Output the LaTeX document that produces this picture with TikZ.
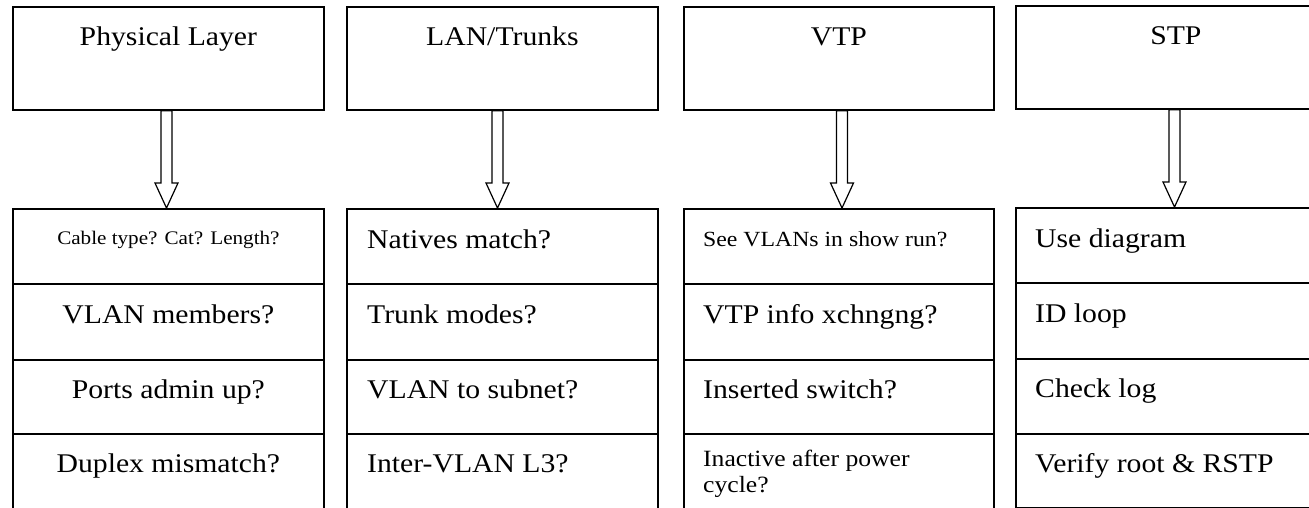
\documentclass[tikz,border=0pt]{standalone}
\usepackage{fontspec}
\setmainfont[FakeStretch=1.1]{Liberation Serif}
\usetikzlibrary{calc}

\tikzset{
  cellbox/.style={draw, line width=1.8pt, inner sep=0pt, anchor=north west},
  txt/.style={inner sep=0pt, font=\fontsize{#1}{#1}\selectfont},
  ctext/.style={txt=#1, anchor=base},
  ltext/.style={txt=#1, anchor=base west},
  blockarrow/.style={draw, fill=white, line width=1.2pt, line join=miter,
    to path={let \p1=(\tikztostart), \p2=(\tikztotarget) in
      (\x1-5.5pt,\y1) -- (\x1-5.5pt,\y2+25pt) -- (\x1-11.5pt,\y2+25pt)
      -- (\x2,\y2) -- (\x1+11.5pt,\y2+25pt) -- (\x1+5.5pt,\y2+25pt)
      -- (\x1+5.5pt,\y1) -- cycle}}
}

\begin{document}
\begin{tikzpicture}[x=1pt,y=-1pt]
\useasboundingbox (0,0) rectangle (1309,507);
\clip (0,0) rectangle (1309,507);

% arrow anchors (drawn first so the box borders stay on top)
\coordinate (a1s) at (166.5,109);  \coordinate (a1e) at (166.5,208);
\coordinate (a2s) at (497.5,109);  \coordinate (a2e) at (497.5,208);
\coordinate (a3s) at (842,109);    \coordinate (a3e) at (842,208);
\coordinate (a4s) at (1174.5,108); \coordinate (a4e) at (1174.5,207);

% ---------- column 1: physical layer ----------
\node[cellbox, minimum width=311pt, minimum height=103pt] (h1) at (12,6) {};
\node[cellbox, minimum width=311pt, minimum height=75pt]  (c1a) at (12,208) {};
\node[cellbox, minimum width=311pt, minimum height=76pt]  (c1b) at (12,283) {};
\node[cellbox, minimum width=311pt, minimum height=74pt]  (c1c) at (12,359) {};
\node[cellbox, minimum width=311pt, minimum height=82pt]  (c1d) at (12,433) {};
\draw[blockarrow] (h1.south -| a1s) to (c1a.north -| a1e);

\node[ctext=27] (t1h) at ($(h1.north)+(0,39)$) {Physical Layer};
\node[ctext=19.2] (t1a) at ($(c1a.north)+(0,36)$) {Cable type? Cat? Length?};
\node[ctext=27] (t1b) at ($(c1b.north)+(0,40)$) {VLAN members?};
\node[ctext=27] (t1c) at ($(c1c.north)+(0,39)$) {Ports admin up?};
\node[ctext=27] (t1d) at ($(c1d.north)+(0,39)$) {Duplex mismatch?};

% ---------- column 2: LAN / trunks ----------
\node[cellbox, minimum width=311pt, minimum height=103pt] (h2) at (346,6) {};
\node[cellbox, minimum width=311pt, minimum height=75pt]  (c2a) at (346,208) {};
\node[cellbox, minimum width=311pt, minimum height=76pt]  (c2b) at (346,283) {};
\node[cellbox, minimum width=311pt, minimum height=74pt]  (c2c) at (346,359) {};
\node[cellbox, minimum width=311pt, minimum height=82pt]  (c2d) at (346,433) {};
\draw[blockarrow] (h2.south -| a2s) to (c2a.north -| a2e);

\node[ctext=27] (t2h) at ($(h2.north)+(0,39)$) {LAN/Trunks};
\node[ltext=27] (t2a) at ($(c2a.north west)+(21,40)$) {Natives match?};
\node[ltext=27] (t2b) at ($(c2b.north west)+(21,40)$) {Trunk modes?};
\node[ltext=27] (t2c) at ($(c2c.north west)+(21,39)$) {VLAN to subnet?};
\node[ltext=27] (t2d) at ($(c2d.north west)+(21,39)$) {Inter-VLAN L3?};

% ---------- column 3: VTP ----------
\node[cellbox, minimum width=310pt, minimum height=103pt] (h3) at (683,6) {};
\node[cellbox, minimum width=310pt, minimum height=75pt]  (c3a) at (683,208) {};
\node[cellbox, minimum width=310pt, minimum height=76pt]  (c3b) at (683,283) {};
\node[cellbox, minimum width=310pt, minimum height=74pt]  (c3c) at (683,359) {};
\node[cellbox, minimum width=310pt, minimum height=82pt]  (c3d) at (683,433) {};
\draw[blockarrow] (h3.south -| a3s) to (c3a.north -| a3e);

\node[ctext=27] (t3h) at ($(h3.north)+(0,39)$) {VTP};
\node[ltext=21.6] (t3a) at ($(c3a.north west)+(20,38)$) {See VLANs in show run?};
\node[ltext=27] (t3b) at ($(c3b.north west)+(20,40)$) {VTP info xchngng?};
\node[ltext=27] (t3c) at ($(c3c.north west)+(20,39)$) {Inserted switch?};
\node[ltext=23.3] (t3d) at ($(c3d.north west)+(20,33)$) {Inactive after power};
\node[ltext=23.3] (t3e) at ($(t3d.base west)+(0,26)$) {cycle?};

% ---------- column 4: STP ----------
\node[cellbox, minimum width=320pt, minimum height=103pt] (h4) at (1015,5) {};
\node[cellbox, minimum width=320pt, minimum height=75pt]  (c4a) at (1015,207) {};
\node[cellbox, minimum width=320pt, minimum height=76pt]  (c4b) at (1015,282) {};
\node[cellbox, minimum width=320pt, minimum height=75pt]  (c4c) at (1015,358) {};
\node[cellbox, minimum width=320pt, minimum height=73.5pt] (c4d) at (1015,433) {};
\draw[blockarrow] (h4.south -| a4s) to (c4a.north -| a4e);

\node[ctext=27] (t4h) at ($(h4.north)+(0,39)$) {STP};
\node[ltext=27] (t4a) at ($(c4a.north west)+(20,40)$) {Use diagram};
\node[ltext=27] (t4b) at ($(c4b.north west)+(20,40)$) {ID loop};
\node[ltext=27] (t4c) at ($(c4c.north west)+(20,39)$) {Check log};
\node[ltext=27] (t4d) at ($(c4d.north west)+(20,39)$) {Verify root \& RSTP};
\end{tikzpicture}
\end{document}
